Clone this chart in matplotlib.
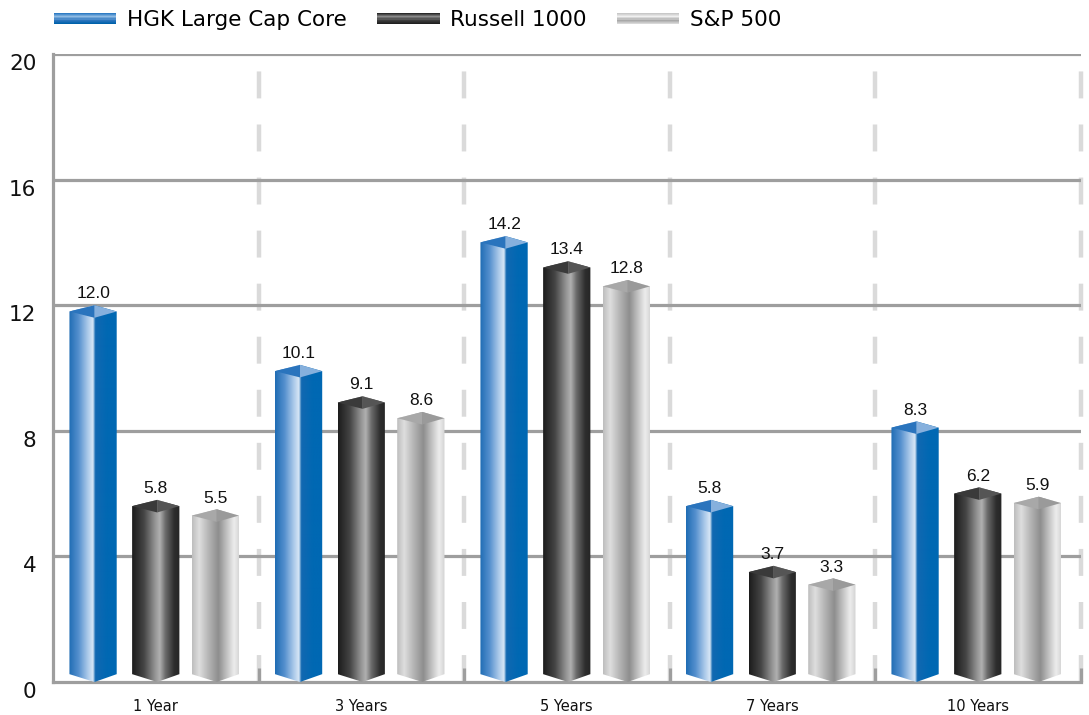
import numpy as np
import matplotlib
matplotlib.use("Agg")
import matplotlib.pyplot as plt
import matplotlib.transforms as mtransforms
from matplotlib.patches import Polygon, Rectangle
from matplotlib.colors import LinearSegmentedColormap
from matplotlib.legend_handler import HandlerBase

plt.rcParams["lines.scale_dashes"] = False

#########################################################################
# data

categories = ["1 Year", "3 Years", "5 Years", "7 Years", "10 Years"]
series_names = ["HGK Large Cap Core", "Russell 1000", "S&P 500"]
hgk = [12.0, 10.1, 14.2, 5.8, 8.3]
russell = [5.8, 9.1, 13.4, 3.7, 6.2]
sp500 = [5.5, 8.6, 12.8, 3.3, 5.9]
yticks = [0, 4, 8, 12, 16, 20]

#########################################################################
# bar colour gradients (left -> right across a bar)

blue_cmap = LinearSegmentedColormap.from_list("blue", [
    (0.0, "#1f6cb4"), (0.2, "#5590ce"), (0.38, "#a6c6e8"), (0.5, "#d8e7f6"),
    (0.55, "#1268b1"), (0.8, "#0068b3"), (1.0, "#0068b3")])
dark_cmap = LinearSegmentedColormap.from_list("dark", [
    (0.0, "#1c1c1c"), (0.25, "#454545"), (0.5, "#9a9a9a"), (0.58, "#b0b0b0"),
    (0.7, "#6a6a6a"), (0.88, "#2e2e2e"), (1.0, "#252525")])
light_cmap = LinearSegmentedColormap.from_list("light", [
    (0.0, "#bdbdbd"), (0.15, "#dedede"), (0.35, "#b4b4b4"), (0.55, "#8e8e8e"),
    (0.75, "#c8c8c8"), (0.88, "#ededed"), (1.0, "#d2d2d2")])
cmaps = [blue_cmap, dark_cmap, light_cmap]
cap_colors = [("#2a74bd", "#86b0dd"), ("#3a3a3a", "#555555"), ("#a8a8a8", "#9a9a9a")]

# legend handle gradients (top -> bottom)
legend_cmaps = [
    LinearSegmentedColormap.from_list("lb", ["#2f7cc4", "#8fbbe4", "#2a74bd", "#0062ab"]),
    LinearSegmentedColormap.from_list("ld", ["#2a2a2a", "#8a8a8a", "#3c3c3c", "#202020"]),
    LinearSegmentedColormap.from_list("ll", ["#c8c8c8", "#f0f0f0", "#a8a8a8", "#d8d8d8"]),
]

#########################################################################
# figure

fig = plt.figure(figsize=(10.89, 7.15), dpi=100)
ax = fig.add_axes([53 / 1089, 33 / 715, 1027.5 / 1089, 628 / 715])

x = np.arange(len(categories))
width = 0.23
offsets = [-0.305, 0.0, 0.29]
grid_gray = "#9e9e9e"

# grid
for yv in yticks[1:]:
    ax.axhline(yv, color=grid_gray, lw=2.3, zorder=1)
ax.vlines(np.arange(len(categories)) + 0.5, 0, 20, colors="#dadada", lw=3.2,
          linestyles=(0, (19.4, 18.8)), zorder=0.5, clip_on=False)

gradient = np.linspace(0, 1, 256).reshape(1, -1)
side_drop = 0.2
front_drop = 0.4
bottom_lift = 0.25

for vals, off, cmap, caps in zip([hgk, russell, sp500], offsets, cmaps, cap_colors):
    bars = ax.bar(x + off, vals, width, color="none", edgecolor="none", zorder=3)
    for rect in bars:
        x0 = rect.get_x()
        w = rect.get_width()
        h = rect.get_height()
        x1 = x0 + w
        xf = x0 + 0.53 * w
        outline = [(x0, bottom_lift), (x0, h - side_drop), (xf, h), (x1, h - side_drop),
                   (x1, bottom_lift), (xf, 0)]
        clip = Polygon(outline, closed=True, transform=ax.transData)
        im = ax.imshow(gradient, cmap=cmap, extent=(x0, x1, 0, h), aspect="auto",
                       interpolation="bilinear", zorder=3)
        im.set_clip_path(clip)
        # bevelled top
        ax.add_patch(Polygon([(x0, h - side_drop), (xf, h), (xf, h - front_drop)],
                             closed=True, facecolor=caps[0], edgecolor="none", zorder=4))
        ax.add_patch(Polygon([(xf, h), (x1, h - side_drop), (xf, h - front_drop)],
                             closed=True, facecolor=caps[1], edgecolor="none", zorder=4))
        ax.text(x0 + 0.5 * w, h + 0.12, f"{h:.1f}", ha="center", va="bottom",
                fontsize=12.5, family="Liberation Sans", color="#111111", zorder=5)

ax.set_xlim(-0.5, len(categories) - 0.5)
ax.set_ylim(0, 20)

# axes styling
for side in ["top", "right"]:
    ax.spines[side].set_visible(False)
for side in ["left", "bottom"]:
    ax.spines[side].set_color(grid_gray)
    ax.spines[side].set_linewidth(2.3)
    ax.spines[side].set_zorder(2)

ax.set_xticks(x)
ax.set_xticklabels(categories, fontsize=10.5, color="#111111")
ax.set_xticks(np.arange(len(categories)) + 0.5, minor=True)
ax.tick_params(axis="x", which="major", length=0, pad=12)
ax.tick_params(axis="x", which="minor", direction="in", length=10, width=2.3, color=grid_gray)

ax.set_yticks(yticks)
ax.set_yticklabels([str(v) for v in yticks], fontsize=15.5, color="#111111")
ax.tick_params(axis="y", length=0, pad=12)
shift = mtransforms.ScaledTranslation(0, -8 / 100, fig.dpi_scale_trans)
for lab in ax.get_yticklabels():
    lab.set_transform(lab.get_transform() + shift)

#########################################################################
# legend with gradient handles


class GradientHandler(HandlerBase):
    def __init__(self, cmap):
        super().__init__()
        self.cmap = cmap

    def create_artists(self, legend, orig_handle, xdescent, ydescent, width, height,
                       fontsize, trans):
        n = 10
        bar_h = 7.5
        y0 = -ydescent + (height - bar_h) / 2
        artists = []
        for i in range(n):
            c = self.cmap(i / (n - 1))
            r = Rectangle((-xdescent, y0 + bar_h * (n - 1 - i) / n), width, bar_h / n,
                          facecolor=c, edgecolor="none", transform=trans)
            artists.append(r)
        return artists


handles = [Rectangle((0, 0), 1, 1) for _ in series_names]
fig.legend(handles, series_names, loc="center left", bbox_to_anchor=(54 / 1089, 1 - 20 / 715),
           ncol=3, frameon=False, fontsize=15.5, handlelength=2.9, handletextpad=0.5,
           columnspacing=1.4, borderpad=0, borderaxespad=0,
           handler_map={h: GradientHandler(cm) for h, cm in zip(handles, legend_cmaps)})

fig.savefig("out.png", dpi=100)
